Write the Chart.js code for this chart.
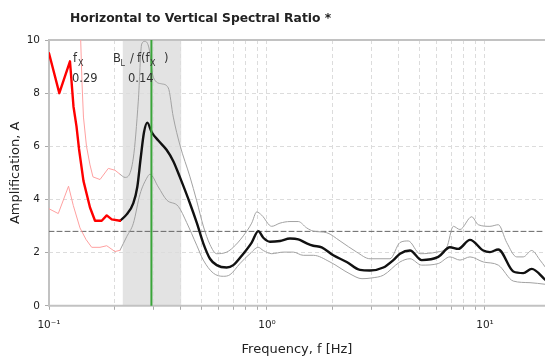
<!DOCTYPE html>
<html>
<head>
<meta charset="utf-8">
<script src="https://cdn.jsdelivr.net/npm/chart.js@4.4.0/dist/chart.umd.min.js"></script>
<style>
  html, body { margin: 0; padding: 0; background: #fff; }
</style>
</head>
<body>
<canvas id="hvsr" width="545" height="357"></canvas>
<script>
// Curva media e desvio na faixa de baixa frequencia (vermelho)
const lowMeanFreq = [0.1, 0.1115, 0.1248, 0.1295, 0.1337, 0.1373, 0.1439, 0.1542, 0.1626, 0.1745, 0.1840, 0.1940, 0.2117];
const lowMean = [9.5, 8.0, 9.2, 7.5, 6.75, 5.9, 4.7, 3.7, 3.2, 3.2, 3.4, 3.25, 3.2];
const lowUpperFreq = [0.1, 0.1115, 0.1248, 0.1337, 0.1394, 0.1417, 0.1439, 0.1486, 0.1542, 0.1591, 0.1714, 0.1871, 0.2008, 0.2117];
const lowUpper = [13, 12, 13.5, 13, 10.3, 8.4, 7.1, 6.0, 5.3, 4.85, 4.75, 5.17, 5.1, 4.95];
const lowLowerFreq = [0.1, 0.1103, 0.1229, 0.1293, 0.1387, 0.1477, 0.1570, 0.1714, 0.1840, 0.2008, 0.2117];
const lowLower = [3.65, 3.47, 4.5, 3.77, 2.93, 2.5, 2.2, 2.2, 2.26, 2.04, 2.09];

// Curva media e desvio no resto do espectro (preto / cinza)
const highMeanFreq = [0.2117, 0.2272, 0.2437, 0.2541, 0.2634, 0.2728, 0.2824, 0.2959, 0.3172, 0.3467,
  0.3717, 0.3989, 0.4434, 0.4774, 0.5103, 0.5477, 0.5879, 0.6533, 0.7004, 0.7786,
  0.8507, 0.9121, 0.9616, 1.032, 1.147, 1.275, 1.392, 1.521, 1.631, 1.782,
  2.014, 2.321, 2.670, 2.968, 3.417, 3.797, 4.075, 4.529, 5.124, 6.106,
  6.909, 7.543, 8.535, 9.822, 10.54, 11.51, 13.49, 14.98, 16.38, 18.85];
const highMean = [3.2, 3.44, 3.86, 4.47, 5.56, 6.53, 6.89, 6.53, 6.22, 5.86,
  5.44, 4.83, 3.85, 3.1, 2.35, 1.77, 1.53, 1.44, 1.53, 1.96,
  2.38, 2.81, 2.56, 2.41, 2.44, 2.53, 2.5, 2.35, 2.26, 2.2,
  1.9, 1.65, 1.35, 1.33, 1.44, 1.72, 1.96, 2.08, 1.72, 1.84,
  2.2, 2.14, 2.48, 2.08, 2.02, 2.12, 1.29, 1.23, 1.39, 0.99];
const highUpperFreq = [0.2117, 0.2232, 0.2437, 0.2568, 0.2662, 0.2757, 0.2875, 0.3009, 0.3288, 0.3525,
  0.3717, 0.3989, 0.4434, 0.4759, 0.5103, 0.5477, 0.5879, 0.6533, 0.7004, 0.7786,
  0.8507, 0.8970, 0.9456, 1.051, 1.147, 1.275, 1.392, 1.521, 1.631, 1.879,
  2.163, 2.579, 2.968, 3.666, 4.075, 4.448, 5.033, 6.003, 6.673, 7.155,
  7.680, 8.690, 9.318, 10.54, 11.51, 12.58, 13.98, 14.98, 16.38, 17.88, 18.85];
const highUpper = [4.95, 4.83, 5.56, 7.7, 9.85, 9.95, 9.7, 8.6, 8.35, 8.2,
  7.1, 6.04, 4.85, 3.95, 3.0, 2.3, 1.96, 2.02, 2.2, 2.63,
  3.11, 3.53, 3.41, 2.99, 3.11, 3.17, 3.17, 2.93, 2.81, 2.75,
  2.44, 2.02, 1.77, 1.77, 2.38, 2.44, 1.96, 2.02, 2.2, 2.99,
  2.87, 3.35, 3.05, 2.99, 3.05, 2.38, 1.84, 1.84, 2.08, 1.72, 1.47];
const highLowerFreq = [0.2117, 0.2272, 0.2437, 0.2615, 0.2807, 0.2906, 0.3172, 0.3467, 0.3919, 0.4282,
  0.4759, 0.5103, 0.5671, 0.6302, 0.6765, 0.7518, 0.8356, 0.9121, 0.9616, 1.051,
  1.188, 1.320, 1.467, 1.631, 1.945, 2.403, 2.728, 3.032, 3.417, 4.075,
  4.529, 5.124, 6.106, 6.909, 7.680, 8.535, 9.822, 11.51, 13.49, 16.09, 18.85];
const highLower = [2.09, 2.6, 3.1, 4.2, 4.8, 4.95, 4.47, 3.98, 3.74, 3.13,
  2.28, 1.72, 1.23, 1.11, 1.17, 1.59, 1.96, 2.2, 2.08, 1.96,
  2.02, 2.02, 1.9, 1.9, 1.65, 1.2, 1.02, 1.05, 1.15, 1.65,
  1.77, 1.53, 1.59, 1.84, 1.72, 1.84, 1.65, 1.53, 0.93, 0.87, 0.81];

// Eixos e marcas
const xMin = 0.1;
const xMax = 18.85;
const xGridFreq = [0.1, 0.2, 0.3, 0.4, 0.5, 0.6, 0.7, 0.8, 0.9, 1, 2, 3, 4, 5, 6, 7, 8, 9, 10];
const xLabelFreq = [0.1, 1, 10];
const xLabels = ['10\u207B\u00B9', '10\u2070', '10\u00B9'];
const yTicks = [0, 2, 4, 6, 8, 10];
const threshold = 2.8;
const fx = 0.295;
const bandLow = 0.218;
const bandHigh = 0.404;
const fxText = '0.29';
const blText = '0.14';

function pontos(fs, as) {
    return fs.map(function(f, i) { return { x: f, y: as[i] }; });
}

// Faixa cinza, moldura, linha verde e textos
const marcas = {
    id: 'marcas',
    beforeDraw: function(chart) {
        const c = chart.ctx, a = chart.chartArea, x = chart.scales.x;
        const x0 = x.getPixelForValue(bandLow), x1 = x.getPixelForValue(bandHigh);
        c.save();
        c.fillStyle = '#e3e3e3';
        c.fillRect(x0, a.top, x1 - x0, a.bottom - a.top);
        c.restore();
    },
    beforeDatasetsDraw: function(chart) {
        const c = chart.ctx, a = chart.chartArea;
        c.save();
        c.strokeStyle = '#c2c2c2';
        c.lineWidth = 2;
        c.beginPath();
        c.moveTo(a.right, a.top);
        c.lineTo(a.left, a.top);
        c.lineTo(a.left, a.bottom);
        c.lineTo(a.right, a.bottom);
        c.stroke();
        c.restore();
    },
    afterDatasetsDraw: function(chart) {
        const c = chart.ctx, a = chart.chartArea, x = chart.scales.x;
        const xf = x.getPixelForValue(fx);
        c.save();
        c.strokeStyle = '#3aa53a';
        c.lineWidth = 2;
        c.beginPath();
        c.moveTo(xf, a.top);
        c.lineTo(xf, a.bottom);
        c.stroke();

        c.fillStyle = '#333';
        c.textBaseline = 'alphabetic';
        const big = '11.5px "DejaVu Sans"', small = '8px "DejaVu Sans"';
        const l = a.left;
        c.font = big; c.fillText('f', l + 24, 62);
        c.font = small; c.fillText('X', l + 29, 66);
        c.font = big; c.fillText(fxText, l + 23, 82);

        c.font = big; c.fillText('B', l + 64, 62);
        c.font = small; c.fillText('L', l + 71.5, 66);
        c.font = big; c.fillText('/', l + 81, 62);
        c.fillText('f(f', l + 88, 62);
        c.font = small; c.fillText('X', l + 101, 66);
        c.font = big; c.fillText(')', l + 115, 62);
        c.fillText(blText, l + 79, 82);

        c.font = 'bold 12.3px "DejaVu Sans"';
        c.fillStyle = '#222';
        c.fillText('Horizontal to Vertical Spectral Ratio *', 70, 22);
        c.restore();
    }
};

document.addEventListener('DOMContentLoaded', function() {
    Chart.defaults.font.family = '"DejaVu Sans", sans-serif';
    Chart.defaults.color = '#222';

    const contexto = document.getElementById('hvsr').getContext('2d');

    const meuGrafico = new Chart(contexto, {
        type: 'line',
        data: {
            datasets: [
                { data: pontos(lowMeanFreq, lowMean), borderColor: '#ff0000', borderWidth: 2.4 },
                { data: pontos(highMeanFreq, highMean), borderColor: '#111111', borderWidth: 2.4, cubicInterpolationMode: 'monotone' },
                { data: pontos(lowUpperFreq, lowUpper), borderColor: '#ffa0a0', borderWidth: 1 },
                { data: pontos(lowLowerFreq, lowLower), borderColor: '#ffa0a0', borderWidth: 1 },
                { data: pontos(highUpperFreq, highUpper), borderColor: '#a2a2a2', borderWidth: 1, cubicInterpolationMode: 'monotone' },
                { data: pontos(highLowerFreq, highLower), borderColor: '#a2a2a2', borderWidth: 1, cubicInterpolationMode: 'monotone' },
                { data: [{ x: xMin, y: threshold }, { x: xMax, y: threshold }], borderColor: '#666', borderWidth: 1, borderDash: [5, 3] }
            ]
        },
        options: {
            responsive: false,
            animation: false,
            devicePixelRatio: 1,
            layout: { padding: { top: 40, right: 0, bottom: 0, left: 0 } },
            elements: {
                point: { radius: 0 },
                line: { tension: 0, borderJoinStyle: 'round', borderCapStyle: 'round' }
            },
            plugins: { legend: { display: false }, tooltip: { enabled: false } },
            scales: {
                x: {
                    type: 'logarithmic',
                    min: xMin,
                    max: xMax,
                    afterBuildTicks: function(s) { s.ticks = xGridFreq.map(function(v) { return { value: v }; }); },
                    ticks: {
                        autoSkip: false, maxRotation: 0, minRotation: 0, padding: 9,
                        font: { size: 10.5 },
                        callback: function(v) { const i = xLabelFreq.indexOf(v); return i >= 0 ? xLabels[i] : ''; }
                    },
                    grid: { color: '#dcdcdc', tickColor: '#aaa', tickLength: 4 },
                    border: { display: false, dash: [4, 3] },
                    title: { display: true, text: 'Frequency, f [Hz]', font: { size: 13 }, padding: { top: 1, bottom: 0 } }
                },
                y: {
                    min: 0,
                    max: 10,
                    afterFit: function(s) { s.width = 49; },
                    afterBuildTicks: function(s) { s.ticks = yTicks.map(function(v) { return { value: v }; }); },
                    ticks: { padding: 5, font: { size: 10.5 } },
                    grid: { color: '#dcdcdc', tickColor: '#aaa', tickLength: 4 },
                    border: { display: false, dash: [4, 3] },
                    title: { display: true, text: 'Amplification, A', font: { size: 13 }, padding: { top: 8, bottom: 0 } }
                }
            }
        },
        plugins: [marcas]
    });
});
</script>
</body>
</html>
